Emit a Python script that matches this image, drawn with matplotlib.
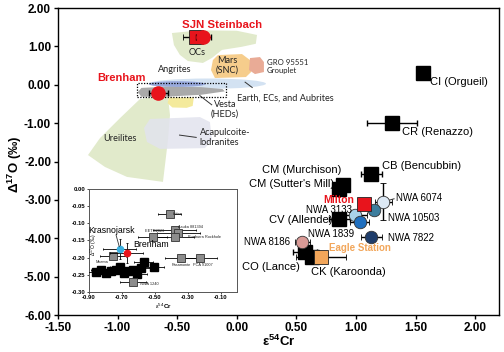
import matplotlib
matplotlib.use("Agg")
import matplotlib.pyplot as plt
from matplotlib.patches import Polygon, Ellipse, Rectangle
from matplotlib.ticker import FormatStrFormatter, MultipleLocator

plt.rcParams["font.family"] = ["Liberation Sans", "DejaVu Sans"]
plt.rcParams["mathtext.fontset"] = "custom"
plt.rcParams["mathtext.rm"] = "Liberation Sans"
plt.rcParams["mathtext.bf"] = "Liberation Sans:bold"
plt.rcParams["mathtext.it"] = "Liberation Sans:italic"

# ── Data: chondrite groups (black squares) ────────────────────────
chon_names = ["CI (Orgueil)", "CR (Renazzo)", "CB (Bencubbin)", "CM (Murchison)",
              "CM (Sutter's Mill)", "CV (Allende)", "CO (Lance)", "CK (Karoonda)"]
chon_cr = [1.56, 1.30, 1.13, 0.89, 0.86, 0.86, 0.57, 0.63]
chon_o = [0.31, -1.00, -2.32, -2.61, -2.71, -3.49, -4.35, -4.48]
chon_cr_err = [0.03, 0.21, 0.09, 0.03, 0.03, 0.09, 0.10, 0.04]

# ── Data: NWA carbonaceous-like achondrites (circles) ─────────────
nwa_names = ["NWA 6074", "NWA 10503", "NWA 3133", "NWA 1839", "NWA 7822", "NWA 8186"]
nwa_cr = [1.23, 1.15, 0.99, 1.03, 1.13, 0.55]
nwa_o = [-3.05, -3.26, -3.39, -3.57, -3.96, -4.09]
nwa_cr_err = [0.07, 0.0, 0.10, 0.08, 0.09, 0.065]
nwa_o_err = [0.48, 0.0, 0.0, 0.0, 0.0, 0.0]
nwa_colors = ["#dde9f5", "#3d7e9e", "#a9d2ea", "#1f6fbf", "#1f3d6b", "#d99a96"]

# ── Data: irons highlighted ───────────────────────────────────────
iron_names = ["Milton", "Eagle Station", "SJN Steinbach"]
iron_cr = [1.07, 0.71, -0.34]
iron_o = [-3.10, -4.48, 1.25]
iron_cr_err = [0.0, 0.21, 0.11]
iron_colors = ["#e8141c", "#f2a65a", "#e8141c"]

circ_cr = [-0.28, -0.66]
circ_o = [1.25, -0.21]
circ_cr_err = [0.06, 0.08]

# ── Data: meteorite fields (polygon outlines, data units) ─────────
ocs_cr = [-0.544, -0.309, 0.0, 0.17, 0.16, 0.04, -0.124, -0.208, -0.284, -0.41, -0.477, -0.527]
ocs_o = [1.35, 1.42, 1.41, 1.30, 1.07, 0.99, 0.91, 0.70, 0.57, 0.62, 0.78, 1.04]
mars_cr = [-0.158, 0.044, 0.111, 0.12, 0.077, -0.183, -0.216, -0.2]
mars_o = [0.776, 0.802, 0.646, 0.333, 0.203, 0.177, 0.385, 0.646]
gro_cr = [0.111, 0.195, 0.228, 0.228, 0.153, 0.103]
gro_o = [0.698, 0.724, 0.594, 0.333, 0.281, 0.385]
ure_cr = [-0.812, -0.686, -0.577, -0.56, -0.577, -0.619, -0.921, -1.106, -1.248, -1.148, -0.98]
ure_o = [-0.37, -0.318, -0.318, -0.79, -1.44, -2.53, -2.40, -2.14, -1.83, -1.39, -0.87]
aca_cr = [-0.728, -0.309, -0.225, -0.208, -0.267, -0.644, -0.753, -0.778]
aca_o = [-0.89, -0.84, -0.97, -1.44, -1.65, -1.67, -1.49, -1.125]
hed_cr = [-0.83, -0.80, -0.60, -0.30, -0.12, -0.10, -0.30, -0.60, -0.80]
hed_o = [-0.19, -0.08, -0.05, -0.06, -0.11, -0.17, -0.26, -0.31, -0.31]
yel_cr = [-0.57, -0.36, -0.37, -0.42, -0.54, -0.58]
yel_o = [-0.33, -0.33, -0.55, -0.60, -0.59, -0.48]

# ── Data: inset (HED / anomalous achondrites) ─────────────────────
ins_gray_names = ["Ibitira", "Asuka 881394", "", "Bunburra Rockhole", "EET 92023",
                  "Pasamonte", "PCA 91007", "Moama", "NWA 1240"]
ins_gray_cr = [-0.41, -0.38, -0.357, -0.38, -0.513, -0.338, -0.224, -0.755, -0.634]
ins_gray_o = [-0.073, -0.120, -0.128, -0.140, -0.140, -0.201, -0.201, -0.195, -0.271]
ins_gray_err = [0.07, 0.13, 0.13, 0.12, 0.09, 0.10, 0.10, 0.08, 0.08]

ins_black_cr = [-0.858, -0.828, -0.797, -0.767, -0.737, -0.713, -0.689, -0.664,
                -0.634, -0.61, -0.586, -0.568, -0.507]
ins_black_o = [-0.242, -0.236, -0.245, -0.239, -0.236, -0.227, -0.245, -0.239,
               -0.236, -0.248, -0.230, -0.213, -0.227]

ins_hl_names = ["Krasnojarsk", "Brenham"]
ins_hl_cr = [-0.713, -0.67]
ins_hl_o = [-0.175, -0.187]
ins_hl_colors = ["#3ab0e0", "#e8141c"]


# ── Main chart ────────────────────────────────────────────────────
fig = plt.figure(figsize=(5.04, 3.52), dpi=100)
ax = fig.add_axes([0.115, 0.105, 0.875, 0.872])
ax.set_xlim(-1.5, 2.2)
ax.set_ylim(-6.0, 2.0)

fields = [
    (ure_cr, ure_o, "#e1eacb", 1.0),
    (ocs_cr, ocs_o, "#e1eacb", 1.0),
    (mars_cr, mars_o, "#f6cd8c", 1.0),
    (gro_cr, gro_o, "#e9ab96", 1.0),
    (aca_cr, aca_o, "#e2e3ee", 0.85),
    (yel_cr, yel_o, "#f4ea9c", 1.0),
]
for xs, ys, col, a in fields:
    ax.add_patch(Polygon(list(zip(xs, ys)), closed=True, facecolor=col,
                         edgecolor="none", alpha=a, joinstyle="round", zorder=1))

ax.add_patch(Ellipse((-0.245, 0.03), 0.98, 0.27, facecolor="#d3e2f2",
                     edgecolor="none", zorder=1.5))
ax.add_patch(Ellipse((-0.50, 0.02), 0.48, 0.15, facecolor="#98a9dc",
                     edgecolor="none", zorder=1.6))
ax.add_patch(Polygon(list(zip(hed_cr, hed_o)), closed=True, facecolor="#a9a9a9",
                     edgecolor="none", zorder=1.7))
ax.add_patch(Rectangle((-0.837, -0.318), 0.747, 0.365, fill=False,
                       edgecolor="black", linestyle=(0, (1, 1.2)), linewidth=0.9, zorder=2))

# field labels
field_font = dict(family=["Lato", "DejaVu Sans"], fontsize=6.6, color="#222222", zorder=3)
ax.text(-0.33, 0.83, "OCs", ha="center", va="center", **field_font)
ax.text(-0.08, 0.50, "Mars\n(SNC)", ha="center", va="center", linespacing=1.1, **field_font)
ax.text(0.25, 0.47, "GRO 95551\nGrouplet", ha="left", va="center", linespacing=1.2,
        fontsize=5.6, family=["Lato", "DejaVu Sans"], color="#222222")
ax.text(-0.52, 0.39, "Angrites", ha="center", va="center", **field_font)
ax.text(0.0, -0.34, "Earth, ECs, and Aubrites", ha="left", va="center", **field_font)
ax.text(-0.10, -0.63, "Vesta\n(HEDs)", ha="center", va="center", linespacing=1.1, **field_font)
ax.text(-0.98, -1.39, "Ureilites", ha="center", va="center", **field_font)
ax.text(-0.31, -1.38, "Acapulcoite-\nlodranites", ha="left", va="center",
        linespacing=1.1, **field_font)

leaders = [((0.07, 0.07), (0.13, -0.07)),
           ((-0.31, -0.28), (-0.21, -0.52)),
           ((-0.48, -1.31), (-0.34, -1.37)),
           ((1.23, -3.05), (1.32, -2.97))]
for (x0, y0), (x1, y1) in leaders:
    ax.plot([x0, x1], [y0, y1], color="#333333", linewidth=0.7, zorder=3)

# chondrite squares
ebar = dict(ecolor="black", elinewidth=1.0, capsize=2.2, capthick=1.0, linestyle="none")
ax.errorbar(chon_cr, chon_o, xerr=chon_cr_err, marker="s", markersize=10,
            markerfacecolor="black", markeredgecolor="black", zorder=4, **ebar)

# NWA circles
for x, y, xe, ye, c in zip(nwa_cr, nwa_o, nwa_cr_err, nwa_o_err, nwa_colors):
    ax.errorbar([x], [y], xerr=[xe] if xe else None, yerr=[ye] if ye else None,
                marker="o", markersize=9, markerfacecolor=c, markeredgecolor="#333333",
                markeredgewidth=0.6, zorder=5, **ebar)

# iron squares
for x, y, xe, c in zip(iron_cr, iron_o, iron_cr_err, iron_colors):
    ax.errorbar([x], [y], xerr=[xe] if xe else None, marker="s", markersize=9.5,
                markerfacecolor=c, markeredgecolor="#222222", markeredgewidth=0.6,
                zorder=5, **ebar)

# red circles (SJN Steinbach, Brenham)
ax.errorbar(circ_cr, circ_o, xerr=circ_cr_err, marker="o", markersize=9.5,
            markerfacecolor="#e8141c", markeredgecolor="#e8141c", zorder=6, **ebar)

# point labels
lab = dict(fontsize=8, color="black", va="center", zorder=7)
ax.text(1.62, 0.07, chon_names[0], ha="left", **lab)
ax.text(1.385, -1.23, chon_names[1], ha="left", **lab)
ax.text(1.215, -2.11, chon_names[2], ha="left", **lab)
ax.text(0.88, -2.22, chon_names[3], ha="right", **lab)
ax.text(0.82, -2.58, chon_names[4], ha="right", **lab)
ax.text(0.80, -3.52, chon_names[5], ha="right", **lab)
ax.text(0.53, -4.74, chon_names[6], ha="right", **lab)
ax.text(0.62, -4.88, chon_names[7], ha="left", **lab)

nlab = dict(fontsize=7, color="black", va="center", zorder=7)
ax.text(1.335, -2.95, nwa_names[0], ha="left", **nlab)
ax.text(1.27, -3.47, nwa_names[1], ha="left", **nlab)
ax.text(0.97, -3.26, nwa_names[2], ha="right", **nlab)
ax.text(0.60, -3.89, nwa_names[3], ha="left", **nlab)
ax.text(1.27, -3.99, nwa_names[4], ha="left", **nlab)
ax.text(0.45, -4.09, nwa_names[5], ha="right", **nlab)

ax.text(0.985, -2.99, iron_names[0], ha="right", va="center", fontsize=7.5,
        fontweight="bold", color="#e8141c", zorder=7)
ax.text(0.77, -4.25, iron_names[1], ha="left", va="center", fontsize=7,
        fontweight="bold", color="#f2a65a", zorder=7)
ax.text(-0.46, 1.56, iron_names[2], ha="left", va="center", fontsize=8.2,
        fontweight="bold", color="#e8141c", zorder=7)
ax.text(-1.17, 0.18, "Brenham", ha="left", va="center", fontsize=8,
        fontweight="bold", color="#e8141c", zorder=7)

# axes styling
ax.xaxis.set_major_locator(MultipleLocator(0.5))
ax.yaxis.set_major_locator(MultipleLocator(1.0))
ax.xaxis.set_major_formatter(FormatStrFormatter("%.2f"))
ax.yaxis.set_major_formatter(FormatStrFormatter("%.2f"))
ax.tick_params(direction="out", length=3, width=1, labelsize=8.5, pad=2)
for t in ax.get_xticklabels() + ax.get_yticklabels():
    t.set_fontweight("bold")
for s in ax.spines.values():
    s.set_linewidth(1.0)
ax.set_xlabel(r"$\mathbf{\varepsilon^{54}Cr}$", fontsize=9.5, labelpad=0)
ax.set_ylabel(r"$\mathbf{\Delta^{17}O}$ (‰)", fontsize=9.5, fontweight="bold")
ax.yaxis.set_label_coords(-0.078, 0.49)

# ── Inset ─────────────────────────────────────────────────────────
ins = fig.add_axes([0.1766, 0.1705, 0.2937, 0.2926])
ins.set_facecolor("white")
ins.set_zorder(10)
ins.set_xlim(-0.9, 0.0)
ins.set_ylim(-0.30, 0.0)

ieb = dict(ecolor="black", elinewidth=0.6, capsize=1.0, capthick=0.6, linestyle="none")
ins.errorbar(ins_black_cr, ins_black_o, xerr=0.06, yerr=0.012, marker="s",
             markersize=5.5, markerfacecolor="black", markeredgecolor="black",
             zorder=3, **ieb)
ins.errorbar(ins_gray_cr, ins_gray_o, xerr=ins_gray_err, yerr=0.01, marker="s",
             markersize=5.5, markerfacecolor="#8c8c8c", markeredgecolor="#333333",
             markeredgewidth=0.6, zorder=4, **ieb)
for x, y, c in zip(ins_hl_cr, ins_hl_o, ins_hl_colors):
    ins.errorbar([x], [y], xerr=[0.1], yerr=[0.03], marker="o", markersize=4.5,
                 markerfacecolor=c, markeredgecolor=c, zorder=5, **ieb)

small = dict(fontsize=2.8, color="#222222", va="center", zorder=6)
ins.text(-0.39, -0.073, ins_gray_names[0], ha="left", **small)
ins.text(-0.36, -0.112, ins_gray_names[1], ha="left", **small)
ins.text(-0.30, -0.140, ins_gray_names[3], ha="left", **small)
ins.text(-0.50, -0.123, ins_gray_names[4], ha="center", **small)
ins.text(-0.34, -0.222, ins_gray_names[5], ha="center", **small)
ins.text(-0.21, -0.222, ins_gray_names[6], ha="center", **small)
ins.text(-0.78, -0.214, ins_gray_names[7], ha="right", **small)
ins.text(-0.59, -0.277, ins_gray_names[8], ha="left", **small)

ins.text(-0.761, -0.122, ins_hl_names[0], ha="center", va="center", fontsize=6.3, zorder=6)
ins.text(-0.634, -0.163, ins_hl_names[1], ha="left", va="center", fontsize=6.3, zorder=6)
ins.plot([-0.735, -0.716], [-0.135, -0.168], color="#333333", linewidth=0.6, zorder=6)

ins.set_xticks([-0.9, -0.7, -0.5, -0.3, -0.1])
ins.set_yticks([0.0, -0.05, -0.10, -0.15, -0.20, -0.25, -0.30])
ins.xaxis.set_major_formatter(FormatStrFormatter("%.2f"))
ins.yaxis.set_major_formatter(FormatStrFormatter("%.2f"))
ins.tick_params(direction="out", length=1.5, width=0.5, labelsize=4.2, pad=1)
for t in ins.get_xticklabels() + ins.get_yticklabels():
    t.set_fontweight("bold")
for s in ins.spines.values():
    s.set_linewidth(0.7)
    s.set_color("#555555")
ins.text(0.035, 0.455, r"$\Delta^{17}$O (‰)", transform=ins.transAxes, rotation=90,
         ha="center", va="center", fontsize=3.6)
ins.set_xlabel(r"$\varepsilon^{54}$$\mathbf{Cr}$", fontsize=4.5, labelpad=1)

fig.savefig("out.png", dpi=100)
